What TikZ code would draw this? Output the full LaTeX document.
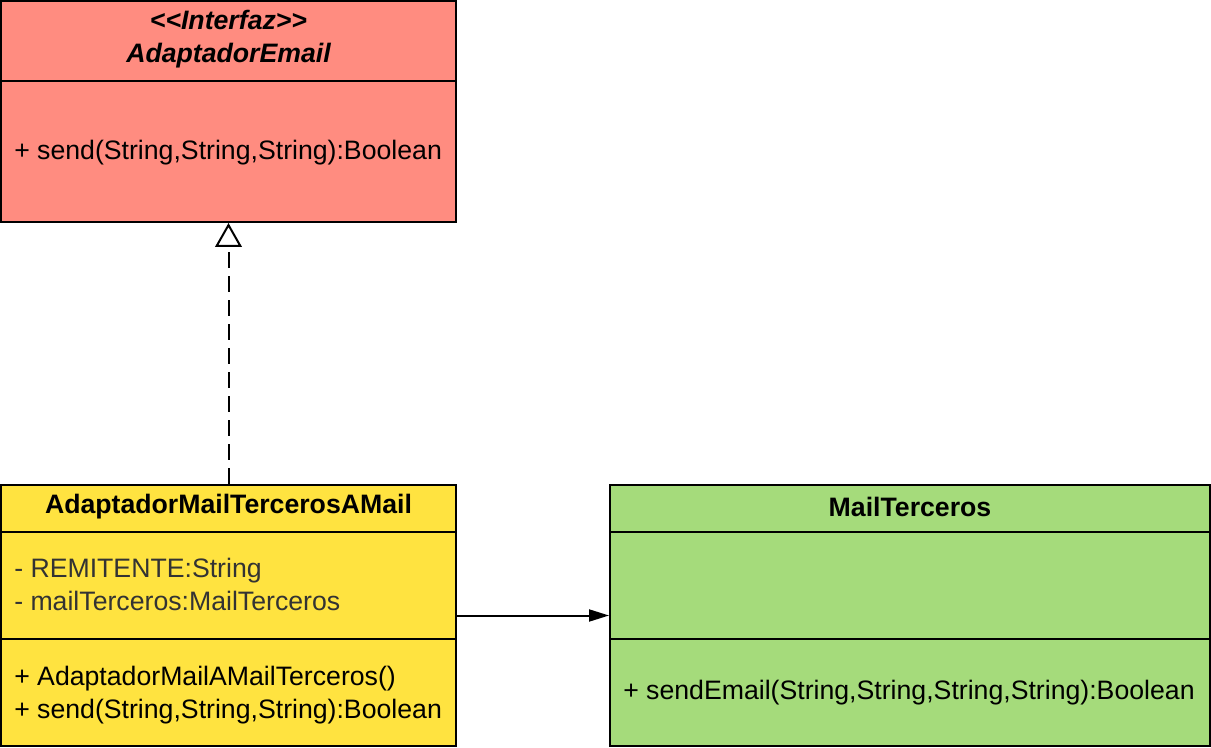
\documentclass[tikz,border=0pt]{standalone}
\usepackage{fontspec}
\setmainfont{Liberation Sans}
\usetikzlibrary{arrows.meta}
\definecolor{ifred}{HTML}{FF8C80}
\definecolor{adyel}{HTML}{FFE340}
\definecolor{mtgreen}{HTML}{A5DB7B}
\definecolor{attrgray}{HTML}{333333}
\tikzset{
  umlbox/.style={draw=black, line width=1.5pt, rectangle, inner sep=0pt},
  divider/.style={draw=black, line width=1.5pt},
  txt/.style={inner sep=0pt, font=\fontsize{20pt}{24.75pt}\selectfont, align=left},
  hdr/.style={inner sep=0pt, font=\fontsize{20pt}{24.75pt}\selectfont\bfseries, align=center},
  conn/.style={draw=black, line width=1.5pt},
}
\begin{document}
\begin{tikzpicture}[x=0.75pt,y=-0.75pt]
\useasboundingbox (0,0) rectangle (1211,748);
% boxes
\node[umlbox, fill=ifred, minimum width=341.25pt, minimum height=165.75pt] (iface) at (228.5,111.5) {};
\node[umlbox, fill=adyel, minimum width=341.25pt, minimum height=195.75pt] (adapt) at (228.5,615.5) {};
\node[umlbox, fill=mtgreen, minimum width=450pt, minimum height=195.75pt] (mail) at (910,615.5) {};
% dividers
\draw[divider] (iface.north west) ++(0,81) -- ++(455,0);
\draw[divider] (adapt.north west) ++(0,48) -- ++(455,0);
\draw[divider] (adapt.north west) ++(0,155) -- ++(455,0);
\draw[divider] (mail.north west) ++(0,48) -- ++(600,0);
\draw[divider] (mail.north west) ++(0,155) -- ++(600,0);
% texts
\node[hdr, font=\fontsize{20pt}{24.75pt}\selectfont\bfseries\itshape] (ifname) at (228.5,39) {<\kern0pt<Interfaz>\kern0pt>\\AdaptadorEmail};
\node[txt, anchor=west] (ifm) at (14,153) {+ send(String,String,String):Boolean};
\node[hdr] (adname) at (228.5,507) {AdaptadorMailTercerosAMail};
\node[txt, anchor=west, text=attrgray] (adattr) at (14,584) {- REMITENTE:String\\- mailTerceros:MailTerceros};
\node[txt, anchor=west] (admeth) at (14,695) {+ AdaptadorMailAMailTerceros()\\+ send(String,String,String):Boolean};
\node[hdr] (mtname) at (910,507) {MailTerceros};
\node[txt, anchor=west] (mtm) at (623,693) {+ sendEmail(String,String,String,String):Boolean};
% connectors
\draw[conn, dash pattern=on 12pt off 6pt, -{Triangle[open, length=18pt, width=20pt, line width=1.5pt]}] (adapt.north) -- (iface.south);
\draw[conn, -{Triangle[length=15pt, width=9pt]}] (adapt.east) -- (mail.west);
\end{tikzpicture}
\end{document}
